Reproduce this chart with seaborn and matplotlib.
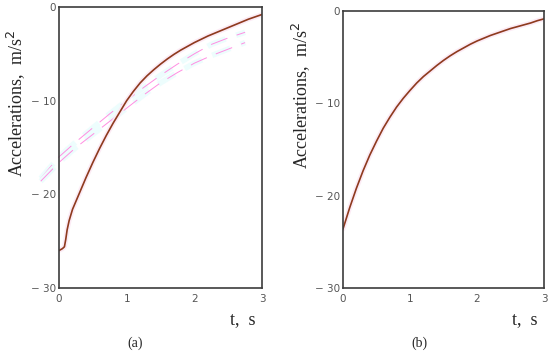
import matplotlib
matplotlib.use('Agg')
import matplotlib.pyplot as plt
import seaborn as sns
import pandas as pd

# panel (a): measured acceleration
tA = [0.0, 0.05, 0.08, 0.10, 0.12, 0.15, 0.2, 0.3, 0.4, 0.5, 0.6, 0.7, 0.8, 0.9, 1.0,
      1.1, 1.2, 1.3, 1.4, 1.5, 1.6, 1.7, 1.8, 1.9, 2.0,
      2.1, 2.2, 2.3, 2.4, 2.5, 2.6, 2.7, 2.8, 2.9, 3.0]
accA = [-26.0, -25.8, -25.6, -24.8, -23.8, -22.8, -21.6, -19.9, -18.2, -16.6, -15.1, -13.7, -12.4, -11.2, -10.0,
        -9.0, -8.1, -7.35, -6.7, -6.1, -5.55, -5.05, -4.6, -4.2, -3.8,
        -3.45, -3.1, -2.8, -2.5, -2.2, -1.9, -1.6, -1.3, -1.05, -0.8]

# panel (a): faint dashed traces
tDash = [-0.27, 0.0, 0.25, 0.5, 0.75, 1.0, 1.25, 1.5, 1.75, 2.0, 2.25, 2.5, 2.75]
dashUpper = [-18.3, -16.0, -14.4, -12.9, -11.4, -10.0, -8.6, -7.3, -6.1, -5.0, -4.0, -3.3, -2.7]
dashLower = [-18.6, -16.6, -15.0, -13.6, -12.2, -10.8, -9.4, -8.1, -7.0, -6.0, -5.2, -4.5, -3.8]

# panel (b): computed acceleration
tB = [0.0, 0.1, 0.2, 0.3, 0.4, 0.5, 0.6, 0.7, 0.8, 0.9, 1.0,
      1.1, 1.2, 1.3, 1.4, 1.5, 1.6, 1.7, 1.8, 1.9, 2.0,
      2.1, 2.2, 2.3, 2.4, 2.5, 2.6, 2.7, 2.8, 2.9, 3.0]
accB = [-23.6, -21.3, -19.2, -17.3, -15.6, -14.1, -12.7, -11.5, -10.4, -9.45, -8.6,
        -7.8, -7.1, -6.5, -5.9, -5.35, -4.85, -4.4, -4.0, -3.6, -3.25,
        -2.95, -2.65, -2.4, -2.15, -1.9, -1.7, -1.5, -1.3, -1.05, -0.85]

xTicks = [0, 1, 2, 3]
yTicks = [0, -10, -20, -30]
yTickLabels = ['0', '\u2212 10', '\u2212 20', '\u2212 30']

sns.set_style('white')
plt.rcParams['font.family'] = ['DejaVu Sans']

lineColor = '#8e3a1e'
spineColor = '#3c3c3c'
tickColor = '#555555'
serif = ['Liberation Serif', 'DejaVu Serif']

fig = plt.figure(figsize=(5.5, 3.55), dpi=100)
axA = fig.add_axes([59 / 550, 1 - 288 / 355, 203 / 550, 281 / 355])
axB = fig.add_axes([343 / 550, 1 - 288 / 355, 201 / 550, 277 / 355])


def styleAxis(ax):
    ax.set_xlim(0, 3)
    ax.set_ylim(-30, 0)
    ax.set_xticks(xTicks)
    ax.set_xticklabels([str(v) for v in xTicks])
    ax.set_yticks(yTicks)
    ax.set_yticklabels(yTickLabels)
    ax.tick_params(axis='both', length=0, labelsize=7.5, labelcolor=tickColor, pad=2)
    ax.tick_params(axis='x', pad=4)
    for s in ax.spines.values():
        s.set_color(spineColor)
        s.set_linewidth(1.2)
    ax.set_xlabel('')
    ax.set_ylabel('')


# faint dashed traces of panel (a), running past the axis
for vals in [dashUpper, dashLower]:
    df = pd.DataFrame({'t': tDash, 'a': vals})
    sns.lineplot(data=df, x='t', y='a', ax=axA, color='#edfdfd', lw=4,
                 estimator=None, sort=False)
    axA.lines[-1].set_linestyle((0, (3.5, 2)))
    axA.lines[-1].set_clip_on(False)
    sns.lineplot(data=df, x='t', y='a', ax=axA, color='#ff8ee2', lw=0.7,
                 estimator=None, sort=False)
    axA.lines[-1].set_linestyle((0, (18, 10)))
    axA.lines[-1].set_clip_on(False)

dfA = pd.DataFrame({'t': tA, 'a': accA})
sns.lineplot(data=dfA, x='t', y='a', ax=axA, color='#fcebf5', lw=3.5, estimator=None)
sns.lineplot(data=dfA, x='t', y='a', ax=axA, color=lineColor, lw=1.2, estimator=None)

dfB = pd.DataFrame({'t': tB, 'a': accB})
sns.lineplot(data=dfB, x='t', y='a', ax=axB, color='#fcebf5', lw=3.5, estimator=None)
sns.lineplot(data=dfB, x='t', y='a', ax=axB, color=lineColor, lw=1.2, estimator=None)

for ax in [axA, axB]:
    styleAxis(ax)

# axis titles and panel captions
fig.text(16 / 550, 1 - 103 / 355, 'Accelerations,  m/s$^2$', rotation=90, ha='center', va='center',
         fontsize=13, family=serif)
fig.text(301 / 550, 1 - 95 / 355, 'Accelerations,  m/s$^2$', rotation=90, ha='center', va='center',
         fontsize=13, family=serif)
fig.text(243 / 550, 1 - 320 / 355, 't,  s', ha='center', va='center', fontsize=13, family=serif)
fig.text(525 / 550, 1 - 320 / 355, 't,  s', ha='center', va='center', fontsize=13, family=serif)
fig.text(135 / 550, 1 - 343 / 355, '(a)', ha='center', va='center', fontsize=10, family=serif)
fig.text(419 / 550, 1 - 343 / 355, '(b)', ha='center', va='center', fontsize=10, family=serif)

plt.savefig('out.png', dpi=100)
plt.close()
